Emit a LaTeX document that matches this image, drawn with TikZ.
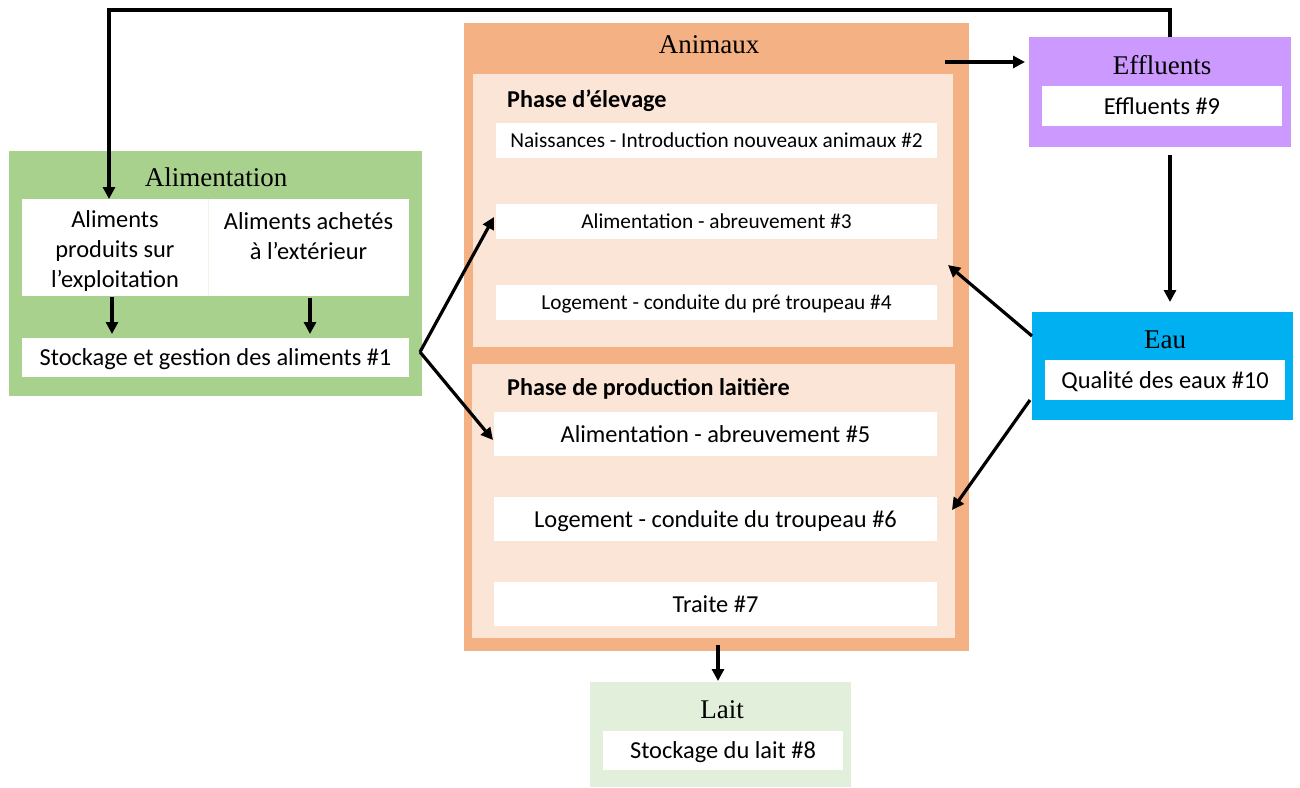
\documentclass[tikz,border=0pt]{standalone}
\usepackage{fontspec}
\setmainfont{Liberation Serif}
\newfontfamily\calfont{Carlito}
\usetikzlibrary{arrows.meta,calc}
\definecolor{cgreen}{HTML}{A9D18E}
\definecolor{corange}{HTML}{F4B183}
\definecolor{clight}{HTML}{FBE5D6}
\definecolor{cpurple}{HTML}{CC99FF}
\definecolor{cblue}{HTML}{00B0F0}
\definecolor{clait}{HTML}{E2EFDA}
\begin{document}
\begin{tikzpicture}[x=1pt,y=-1pt,
  box/.style={inner sep=0pt, outer sep=0pt, draw=none},
  ttl/.style={font=\fontsize{27}{32}\selectfont, inner sep=0pt},
  txt/.style={font=\calfont\fontsize{24.4}{30}\selectfont, align=center},
  oneline/.style={text height=21pt, text depth=5pt},
  smtxt/.style={font=\calfont\fontsize{21.3}{25}\selectfont, align=center, text height=18.5pt, text depth=4.5pt},
  boldtxt/.style={font=\calfont\bfseries\fontsize{24.2}{29}\selectfont, inner sep=0pt},
  arr/.style={line width=3.2pt, -{Triangle[width=12pt,length=12pt]}}]
\useasboundingbox (0,0) rectangle (1300,787);
% Alimentation
\node[box, fill=cgreen, minimum width=413, minimum height=245] (alim) at (215.5,273.5) {};
\node[ttl] (talim) at (216,177) {Alimentation};
\node[box, fill=white, minimum width=186, minimum height=97] (prod) at (115,247.5) {};
\node[txt, inner sep=0pt] (prodtxt) at (115,250.5) {Aliments\\produits sur\\l’exploitation};
\node[box, fill=white, minimum width=201, minimum height=97] (achat) at (308.5,247.5) {};
\node[txt, inner sep=0pt] (achattxt) at (308.5,236) {Aliments achetés\\à l’extérieur};
\draw[cgreen!20, line width=0.8pt] (prod.north east) -- (prod.south east);
\node[box, fill=white, minimum width=387, minimum height=39, txt, oneline] (stock) at (215.5,357.5) {Stockage et gestion des aliments \#1};
% Animaux
\node[box, fill=corange, minimum width=505, minimum height=628] (anim) at (716.5,337) {};
\node[ttl] (tanim) at (709,45) {Animaux};
\node[box, fill=clight, minimum width=480, minimum height=273] (ph1) at (713,210.5) {};
\node[boldtxt, anchor=west] (tph1) at (507,100.5) {Phase d’élevage};
\node[box, fill=white, minimum width=441, minimum height=35, smtxt] (n2) at (716.5,140.5) {Naissances - Introduction nouveaux animaux \#2};
\node[box, fill=white, minimum width=441, minimum height=35, smtxt] (n3) at (716.5,221.5) {Alimentation - abreuvement \#3};
\node[box, fill=white, minimum width=441, minimum height=35, smtxt] (n4) at (716.5,302.5) {Logement - conduite du pré troupeau \#4};
\node[box, fill=clight, minimum width=483, minimum height=274] (ph2) at (713.5,501) {};
\node[boldtxt, anchor=west] (tph2) at (507,388.5) {Phase de production laitière};
\node[box, fill=white, minimum width=443, minimum height=44, txt, oneline] (n5) at (715.5,434) {Alimentation - abreuvement \#5};
\node[box, fill=white, minimum width=443, minimum height=44, txt, oneline] (n6) at (715.5,519) {Logement - conduite du troupeau \#6};
\node[box, fill=white, minimum width=443, minimum height=44, txt, oneline] (n7) at (715.5,604) {Traite \#7};
% Effluents
\node[box, fill=cpurple, minimum width=262, minimum height=110] (eff) at (1160,92) {};
\node[ttl] (teff) at (1162,65) {Effluents};
\node[box, fill=white, minimum width=240, minimum height=40, txt, oneline] (n9) at (1162,106) {Effluents \#9};
% Eau
\node[box, fill=cblue, minimum width=261, minimum height=108] (eau) at (1162.5,366) {};
\node[ttl] (teau) at (1165,340) {Eau};
\node[box, fill=white, minimum width=240, minimum height=40, txt, oneline] (n10) at (1165,380) {Qualité des eaux \#10};
% Lait
\node[box, fill=clait, minimum width=261, minimum height=105] (lait) at (720.5,734.5) {};
\node[ttl] (tlait) at (722,710) {Lait};
\node[box, fill=white, minimum width=240, minimum height=39, txt, oneline] (n8) at (723,750.5) {Stockage du lait \#8};
% Arrows
\draw[arr] ($(eff.north)+(10,0)$) |- ($(prod.north)+(-6,-189)$) -- ($(prod.north)+(-6,0)$);
\draw[arr] ($(prod.south)+(-3,1)$) -- ($(stock.north)+(-103.5,-4)$);
\draw[arr] ($(achat.south)+(1.5,2)$) -- ($(stock.north)+(94.5,-4)$);
\draw[arr] ($(stock.east)+(11,-5.5)$) -- ($(n3.west)+(-2,-4.5)$);
\draw[arr] ($(stock.east)+(11,-5.5)$) -- ($(n5.west)+(-1,6)$);
\draw[arr] ($(eff.west)+(-84,-30)$) -- ($(eff.west)+(-4,-30)$);
\draw[arr] ($(eff.south)+(10,8)$) -- ($(eau.north)+(7.5,-10)$);
\draw[arr] ($(eau.west)+(0,-30)$) -- ($(ph1.east)+(-5,54.5)$);
\draw[arr] ($(eau.west)+(-2,34)$) -- ($(ph2.east)+(-3,9)$);
\draw[arr] ($(anim.south)+(1.5,-6)$) -- ($(lait.north)+(-2.5,-1)$);
\end{tikzpicture}
\end{document}
